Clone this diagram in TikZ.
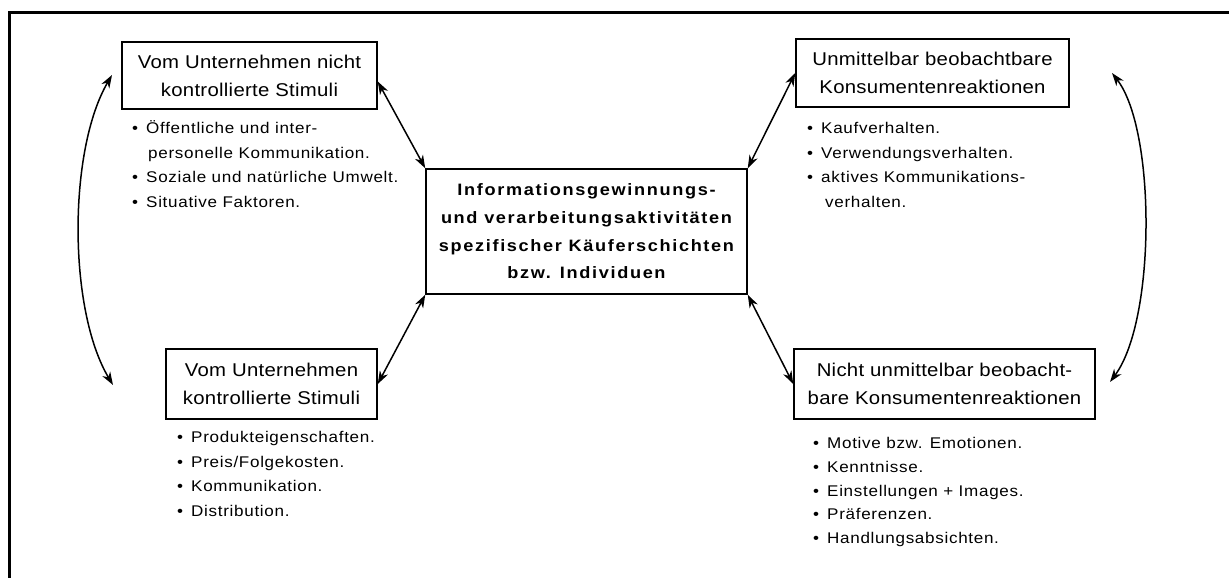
\documentclass[tikz,border=0pt]{standalone}
\usepackage{fontspec}
\setmainfont{Liberation Sans}
\newfontfamily\boxfont[FakeStretch=1.1,LetterSpace=1.5]{Liberation Sans}
\newfontfamily\listfont[FakeStretch=1.1,LetterSpace=4.5]{Liberation Sans}
\newfontfamily\corefont[FakeStretch=1.1,LetterSpace=10]{Liberation Sans}
\usetikzlibrary{arrows.meta,calc}
\newcommand\bul{\makebox[14pt][l]{•}}
\newcommand\cont{\hspace*{16pt}}

\begin{document}
\begin{tikzpicture}[x=1pt,y=-1pt,
  stimbox/.style={draw, line width=1.5pt, align=center, inner sep=0pt,
    font=\boxfont\fontsize{18.5}{28}\selectfont},
  corebox/.style={draw, line width=1.5pt, align=center, inner sep=0pt,
    font=\corefont\bfseries\fontsize{16.5}{27.6}\selectfont},
  listnode/.style={anchor=base west, inner sep=0pt,
    font=\listfont\fontsize{15.5}{24.5}\selectfont},
  dbl/.style={{Stealth[length=13pt,width=9pt,inset=4pt]}-{Stealth[length=13pt,width=9pt,inset=4pt]},
    line width=1.5pt}]

\useasboundingbox (0,0) rectangle (1229,578);

% outer frame (open to the right and bottom)
\draw[line width=3pt] (9.5,578) -- (9.5,12.5) -- (1229,12.5);

% central box
\node[corebox, minimum width=321pt, minimum height=125pt] (core) at (586.5,231.5)
  {Informationsgewinnungs-\\und verarbeitungsaktivitäten\\spezifischer Käuferschichten\\bzw. Individuen};

% stimuli and reactions
\node[stimbox, minimum width=255pt, minimum height=67pt] (b1) at (249.5,75.5)
  {Vom Unternehmen nicht\\kontrollierte Stimuli};
\node[stimbox, minimum width=211pt, minimum height=70pt] (b2) at (271.5,384)
  {Vom Unternehmen\\kontrollierte Stimuli};
\node[stimbox, minimum width=273pt, minimum height=68pt] (b3) at (932.5,73)
  {Unmittelbar beobachtbare\\Konsumentenreaktionen};
\node[stimbox, minimum width=301pt, minimum height=70pt] (b4) at (944.5,384)
  {Nicht unmittelbar beobacht-\\bare Konsumentenreaktionen};

% bullet lists
\node[listnode] (l1) at (132,133.5) {\begin{tabular}[t]{@{}l@{}}
  \bul Öffentliche und inter-\\
  \cont personelle Kommunikation.\\
  \bul Soziale und natürliche Umwelt.\\
  \bul Situative Faktoren.\end{tabular}};
\node[listnode] (l2) at (177,442.5) {\begin{tabular}[t]{@{}l@{}}
  \bul Produkteigenschaften.\\
  \bul Preis/Folgekosten.\\
  \bul Kommunikation.\\
  \bul Distribution.\end{tabular}};
\node[listnode] (l3) at (807,133.5) {\begin{tabular}[t]{@{}l@{}}
  \bul Kaufverhalten.\\
  \bul Verwendungsverhalten.\\
  \bul aktives Kommunikations-\\
  \hspace*{18pt}verhalten.\end{tabular}};
\node[listnode, font=\listfont\fontsize{15.5}{23.8}\selectfont] (l4) at (813,448.5) {\begin{tabular}[t]{@{}l@{}}
  \bul Motive bzw. Emotionen.\\
  \bul Kenntnisse.\\
  \bul Einstellungen + Images.\\
  \bul Präferenzen.\\
  \bul Handlungsabsichten.\end{tabular}};

% links to the central box
\draw[dbl] ($(b1.east)+(0,6)$) -- (core.north west);
\draw[dbl] (core.south west) -- (b2.east);
\draw[dbl] (core.north east) -- (b3.west);
\draw[dbl] (core.south east) -- (b4.west);

% feedback arcs
\coordinate (lt) at (112,75);
\coordinate (lb) at (113,385);
\coordinate (rt) at (1112,73);
\coordinate (rb) at (1110,382);
\draw[dbl] (lt) .. controls (68,150) and (68,310) .. (lb);
\draw[dbl] (rt) .. controls (1156,130) and (1156,320) .. (rb);
\end{tikzpicture}
\end{document}
